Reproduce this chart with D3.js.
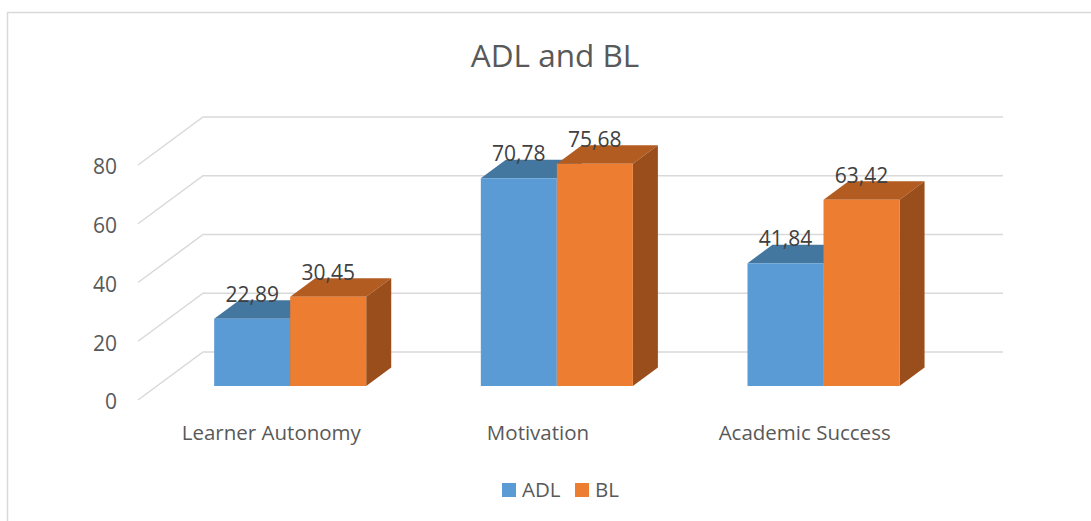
<!DOCTYPE html>
<html>
<head>
<meta charset="utf-8">
<script src="https://cdn.jsdelivr.net/npm/d3@7"></script>
<style>
  body { margin: 0; background: #fff; }
  text { font-family: "Open Sans", "Noto Sans", sans-serif; }
</style>
</head>
<body>
<div id="chart-area"></div>
<script>
// chart data
var categories = ["Learner Autonomy", "Motivation", "Academic Success"];
var seriesNames = ["ADL", "BL"];
var adlValues = [22.89, 70.78, 41.84];
var blValues = [30.45, 75.68, 63.42];
var yTicks = [0, 20, 40, 60, 80];

var width = 1091, height = 521;

var colors = {
  ADL: { front: "#5b9bd5", top: "#44779f", side: "#3f6f98" },
  BL: { front: "#ed7d31", top: "#b35c21", side: "#9a4e1c" }
};

var svg = d3
  .select("#chart-area")
  .append("svg")
  .attr("width", width)
  .attr("height", height);

// chart area border (only top / left visible)
svg.append("rect")
  .attr("x", 7.5)
  .attr("y", 12.5)
  .attr("width", 1200)
  .attr("height", 600)
  .attr("fill", "#fff")
  .attr("stroke", "#d9d9d9")
  .attr("stroke-width", 1.5);

// 3d depth offsets
var DX = 65, DY = -48;
var z0 = 0.29, z1 = 0.675;

var y = d3.scaleLinear().domain([0, 80]).range([400, 165]);
var x0 = d3.scaleBand().domain(categories).range([138, 938]);
var x1 = d3.scaleBand().domain(seriesNames)
  .range([0, x0.bandwidth()])
  .paddingInner(0)
  .paddingOuter(0.754);

function proj(c, v, z) {
  return [c + z * DX, y(v) + z * DY];
}
function poly(pts) {
  return "M" + pts.map(function(p) { return p[0] + "," + p[1]; }).join("L") + "Z";
}

// Title
svg.append("text")
  .attr("x", 555)
  .attr("y", 67)
  .attr("text-anchor", "middle")
  .attr("font-size", "31.5px")
  .attr("fill", "#595959")
  .text("ADL and BL");

// gridlines (side wall + back wall)
var x0Left = x0.range()[0], x0Right = x0.range()[1];
svg.append("g")
  .selectAll("path")
  .data(yTicks)
  .enter()
  .append("path")
  .attr("fill", "none")
  .attr("stroke", "#d9d9d9")
  .attr("stroke-width", 1.5)
  .attr("d", function(t) {
    var a = proj(x0Left, t, 0), b = proj(x0Left, t, 1), c = proj(x0Right, t, 1);
    return "M" + a + "L" + b + "L" + c;
  });

// y tick labels
svg.append("g")
  .selectAll("text")
  .data(yTicks)
  .enter()
  .append("text")
  .attr("x", 117)
  .attr("y", function(t) { return y(t) + 2; })
  .attr("dy", "0.35em")
  .attr("text-anchor", "end")
  .attr("font-size", "21px")
  .attr("fill", "#595959")
  .text(function(t) { return t; });

// bars
var bars = [];
categories.forEach(function(cat, i) {
  bars.push({ cat: cat, s: "ADL", v: adlValues[i] });
  bars.push({ cat: cat, s: "BL", v: blValues[i] });
});

var barG = svg.append("g")
  .selectAll("g")
  .data(bars)
  .enter()
  .append("g");

barG.append("path")
  .attr("fill", function(d) { return colors[d.s].top; })
  .attr("d", function(d) {
    var c = x0(d.cat) + x1(d.s), w = x1.bandwidth();
    return poly([proj(c, d.v, z0), proj(c + w, d.v, z0), proj(c + w, d.v, z1), proj(c, d.v, z1)]);
  });
barG.append("path")
  .attr("fill", function(d) { return colors[d.s].side; })
  .attr("d", function(d) {
    var c = x0(d.cat) + x1(d.s) + x1.bandwidth();
    return poly([proj(c, 0, z0), proj(c, 0, z1), proj(c, d.v, z1), proj(c, d.v, z0)]);
  });
barG.append("path")
  .attr("fill", function(d) { return colors[d.s].front; })
  .attr("d", function(d) {
    var c = x0(d.cat) + x1(d.s), w = x1.bandwidth();
    return poly([proj(c, 0, z0), proj(c + w, 0, z0), proj(c + w, d.v, z0), proj(c, d.v, z0)]);
  });

// data labels
var fmt = d3.formatLocale({ decimal: ",", thousands: ".", grouping: [3], currency: ["", ""] }).format(".2f");
svg.append("g")
  .selectAll("text")
  .data(bars)
  .enter()
  .append("text")
  .attr("x", function(d) {
    return proj(x0(d.cat) + x1(d.s) + x1.bandwidth() / 2, d.v, z0)[0];
  })
  .attr("y", function(d) { return proj(0, d.v, z0)[1] - 17; })
  .attr("text-anchor", "middle")
  .attr("font-size", "21px")
  .attr("fill", "#404040")
  .text(function(d) { return fmt(d.v); });

// category labels
svg.append("g")
  .selectAll("text")
  .data(categories)
  .enter()
  .append("text")
  .attr("x", function(d) { return x0(d) + x0.bandwidth() / 2; })
  .attr("y", 440)
  .attr("text-anchor", "middle")
  .attr("font-size", "20.5px")
  .attr("fill", "#595959")
  .text(function(d) { return d; });

// Legend
var legendX = [502, 575];
var legend = svg.append("g")
  .selectAll("g")
  .data(seriesNames)
  .enter()
  .append("g")
  .attr("transform", function(d, i) { return "translate(" + legendX[i] + ",483)"; });
legend.append("rect")
  .attr("width", 14)
  .attr("height", 14)
  .attr("fill", function(d) { return colors[d].front; });
legend.append("text")
  .attr("x", 20)
  .attr("y", 14)
  .attr("font-size", "20.5px")
  .attr("fill", "#595959")
  .text(function(d) { return d; });
</script>
</body>
</html>
